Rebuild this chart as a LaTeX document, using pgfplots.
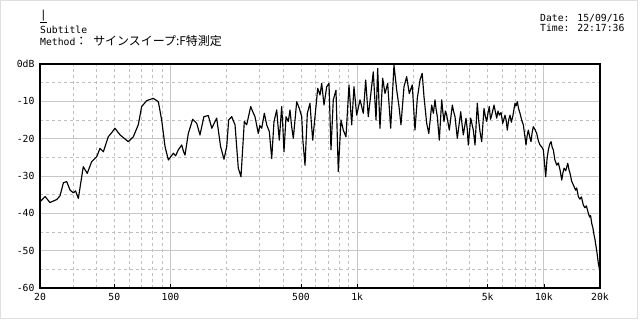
\documentclass[border=0pt]{standalone}
\usepackage{fontspec}
\setmainfont{DejaVu Sans Mono}
\newfontfamily\jp{Noto Sans CJK JP}
\usepackage{pgfplots}
\pgfplotsset{compat=1.18}
\usepackage{pgfplotstable}
\pgfplotstableread{
f dB
20 -36.9
21.3 -35.5
22.6 -37.1
24.6 -36.3
25.6 -35.3
26.7 -31.8
27.8 -31.5
29.0 -33.8
30.2 -34.5
31.0 -34.0
32.1 -36.0
34.1 -27.5
35.8 -29.3
37.8 -26.2
40.3 -24.8
41.9 -22.6
43.7 -23.5
46.4 -19.5
48.4 -18.4
50.4 -17.2
53.7 -19.0
59.4 -20.8
63.2 -19.5
67.2 -16.3
70.1 -11.4
74.6 -9.8
80.9 -9.2
86.1 -10.1
89.7 -15.0
93.5 -22.1
97.4 -25.7
103.6 -23.9
106.5 -24.6
110.1 -23.0
114.9 -21.7
117.5 -23.5
119.6 -24.4
124.6 -18.6
131.5 -14.8
138.2 -15.9
143.9 -19.0
151.0 -14.1
159.4 -13.8
166.5 -17.2
176.8 -14.5
185.5 -22.1
193.5 -25.5
200.1 -22.1
205.0 -15.0
212.8 -14.1
221.7 -16.3
230.8 -27.9
238.6 -30.2
248.6 -15.4
256.0 -16.3
269.0 -11.4
276.0 -12.8
283.6 -14.1
295.4 -18.6
301.0 -16.5
308.2 -17.2
318.2 -13.2
327.8 -16.3
338.4 -18.1
348.6 -25.3
358.6 -15.4
370.8 -12.3
376.0 -16.0
382.8 -20.4
394.2 -11.4
400.0 -17.0
405.6 -23.5
415.8 -14.1
427.8 -15.4
436.8 -12.3
445.0 -16.5
455.0 -19.9
474.4 -10.1
490.0 -11.9
504.6 -14.1
512.0 -20.5
525.6 -27.1
540.8 -13.2
559.0 -10.5
568.0 -15.5
578.0 -20.4
594.6 -14.1
614.8 -6.5
632.4 -8.3
645.8 -5.2
664.4 -11.0
686.8 -6.1
706.6 -5.2
724.2 -23.0
745.0 -9.6
770.2 -7.0
792.4 -28.8
819.2 -15.0
842.8 -17.7
871.2 -19.5
904.2 -5.6
934.8 -16.3
961.6 -6.1
994.2 -13.7
1036 -9.6
1079 -13.2
1111 -4.3
1147 -14.1
1182 -8.3
1220 -2.1
1262 -15.0
1288 -1.2
1325 -17.2
1370 -3.8
1410 -7.9
1457 -5.2
1512 -17.2
1575 -0.3
1629 -7.0
1676 -11.4
1717 -16.3
1782 -6.1
1842 -3.4
1902 -7.9
1974 -5.6
2041 -17.7
2100 -9.2
2171 -4.3
2230 -2.5
2281 -8.8
2358 -15.9
2420 -18.6
2508 -11.0
2560 -13.2
2612 -9.6
2650 -12.2
2688 -14.1
2755 -20.4
2838 -9.6
2880 -13.0
2919 -15.4
2970 -12.6
3018 -13.7
3117 -17.7
3235 -11.0
3290 -12.8
3344 -14.1
3440 -19.9
3588 -12.8
3640 -15.8
3705 -19.0
3830 -14.5
3890 -17.5
3940 -21.7
4058 -14.5
4120 -16.0
4190 -17.7
4279 -21.7
4402 -10.5
4480 -15.2
4551 -18.1
4647 -20.8
4780 -11.9
4860 -14.0
4944 -15.4
5020 -13.2
5104 -11.4
5180 -14.8
5258 -13.7
5410 -11.0
5500 -12.8
5593 -14.5
5680 -12.6
5776 -13.7
5900 -13.0
6023 -15.9
6196 -13.7
6290 -15.2
6374 -17.7
6480 -15.0
6590 -13.7
6700 -15.6
6814 -14.1
7009 -10.5
7100 -11.2
7211 -10.1
7330 -12.0
7454 -13.2
7610 -15.0
7765 -16.3
7900 -19.0
8028 -21.7
8140 -19.2
8260 -17.7
8400 -19.5
8538 -20.8
8660 -18.3
8784 -16.8
8960 -17.5
9160 -18.6
9350 -20.6
9542 -21.7
9740 -22.2
9940 -23.0
10100 -27.0
10238 -30.2
10400 -25.5
10572 -23.0
10750 -21.5
10930 -20.8
11100 -22.4
11246 -23.0
11450 -25.6
11728 -27.1
11960 -26.5
12216 -28.4
12474 -31.1
12650 -29.2
12834 -27.9
13100 -28.6
13434 -26.6
13650 -28.4
13820 -29.3
14100 -31.4
14394 -32.4
14800 -33.8
15000 -33.2
15308 -35.5
15600 -36.2
15900 -35.6
16282 -37.8
16600 -38.5
16900 -38.0
17318 -40.0
17600 -41.0
17800 -40.6
18058 -42.7
18300 -43.8
18578 -45.8
18800 -47.0
19044 -48.9
19300 -50.8
19590 -53.4
20000 -55.6
}\resp
\begin{document}
\begin{tikzpicture}[x=1bp,y=1bp]
\useasboundingbox (0,0) rectangle (640,320);
\draw[gray!25, line width=1bp] (0.5,2) rectangle (637.5,319.5);
\begin{axis}[
  at={(40bp,32bp)}, anchor=south west,
  scale only axis, width=560bp, height=224bp,
  xmode=log, xmin=20, xmax=20000, ymin=-60, ymax=0,
  xtick={100,1000,10000}, xticklabels={},
  minor xtick={30,40,50,60,70,80,90,200,300,400,500,600,700,800,900,2000,3000,4000,5000,6000,7000,8000,9000},
  ytick={-60,-50,-40,-30,-20,-10,0},
  yticklabels={-60,-50,-40,-30,-20,-10,0dB},
  minor ytick={-55,-45,-35,-25,-15,-5},
  grid=both,
  major grid style={gray!45, line width=0.7bp},
  minor grid style={gray!50, line width=0.6bp, dash pattern=on 3bp off 3bp},
  axis line style={line width=1.6bp, black},
  tick style={black, line width=0.6bp},
  major tick length=0pt, minor tick length=0pt,
  tick pos=left,
  extra x ticks={20,50,100,500,1000,5000,10000,20000},
  extra x tick labels={20,50,100,500,1k,5k,10k,20k},
  extra x tick style={grid=none, major tick length=4bp, tick align=inside},
  tick label style={font=\fontsize{9.8}{10}\selectfont},
  xticklabel style={anchor=base, yshift=-12bp},
  yticklabel style={xshift=-2bp},
]
\addplot[black, line width=1.15bp, line join=round] table[x=f, y=dB] {\resp};
\end{axis}
\node[anchor=base west, inner sep=0] at (40,302) {\fontsize{11}{12}\selectfont\underline{|}};
\node[anchor=base west, inner sep=0] at (40,286.5) {\fontsize{9.8}{10}\selectfont Subtitle};
\node[anchor=base west, inner sep=0] at (40,275) {\fontsize{9.8}{10}\selectfont Method{\jp\fontsize{12}{12}\selectfont ：} {\jp\fontsize{12}{12}\selectfont サインスイープ:F特測定}};
\node[anchor=base west, inner sep=0] at (540,298.3) {\fontsize{9.8}{10}\selectfont Date: 15/09/16};
\node[anchor=base west, inner sep=0] at (540,288.3) {\fontsize{9.8}{10}\selectfont Time: 22:17:36};
\end{tikzpicture}
\end{document}
